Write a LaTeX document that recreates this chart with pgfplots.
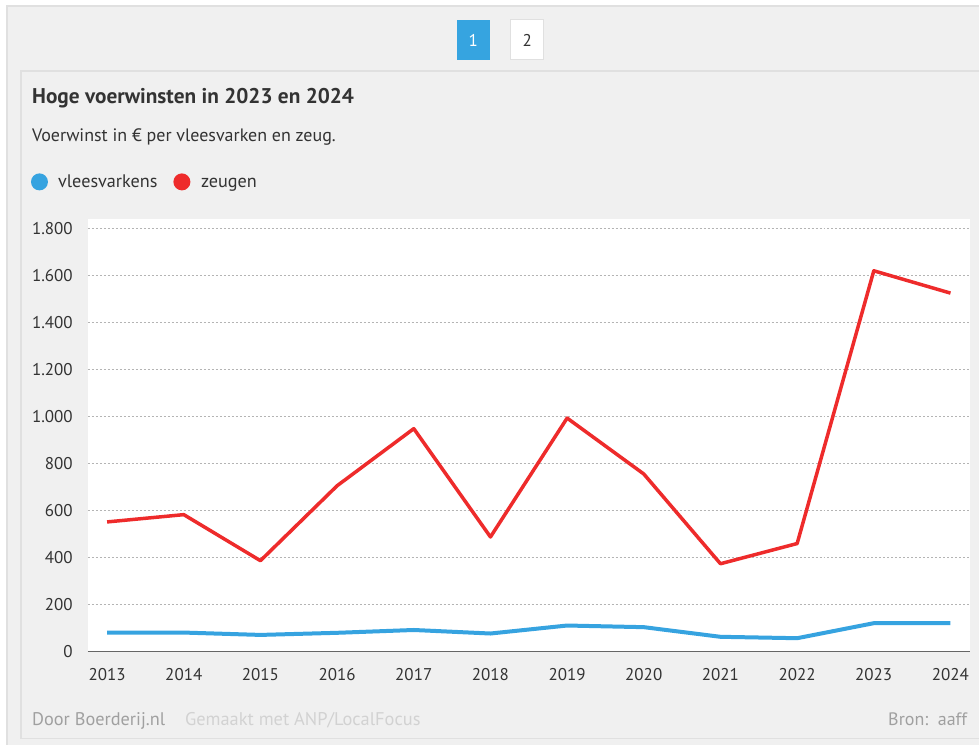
\documentclass[border=0pt]{standalone}
\usepackage{pgfplots}
\pgfplotsset{compat=1.18}
\usepackage{fontspec}
\setmainfont{PT Sans}

\definecolor{bg}{HTML}{F0F0F0}
\definecolor{edge}{HTML}{E0E0E0}
\definecolor{txt}{HTML}{333333}
\definecolor{btnblue}{HTML}{36A4E0}
\definecolor{vlees}{HTML}{36A3E0}
\definecolor{zeug}{HTML}{EE2B2B}
\definecolor{gridc}{HTML}{B4B4B4}
\definecolor{foot}{HTML}{A0A0A0}
\definecolor{footlight}{HTML}{D2D2D2}

\begin{document}
\begin{tikzpicture}
  % page and frames
  \fill[white] (0pt,0pt) rectangle (980pt,-745pt);
  \fill[bg] (7pt,-6pt) rectangle (980pt,-745pt);
  \draw[edge, line width=1.2pt] (7pt,-745pt) -- (7pt,-6pt) -- (980pt,-6pt);
  \draw[edge, line width=1.2pt] (980pt,-71pt) -- (21pt,-71pt) -- (21pt,-739pt) -- (980pt,-739pt);

  % page buttons
  \fill[btnblue] (457pt,-20pt) rectangle (490pt,-60pt);
  \node[white, font=\fontsize{17}{20}\selectfont] at (473.5pt,-40pt) {1};
  \filldraw[fill=white, draw=edge, line width=1pt] (511pt,-20pt) rectangle (544pt,-60pt);
  \node[txt, font=\fontsize{17}{20}\selectfont] at (527.5pt,-40pt) {2};

  % title, subtitle
  \node[anchor=base west, inner sep=0pt, txt, font=\fontsize{21.3}{24}\selectfont\bfseries]
    at (32pt,-104pt) {Hoge voerwinsten in 2023 en 2024};
  \node[anchor=base west, inner sep=0pt, txt, font=\fontsize{18}{21}\selectfont]
    at (32pt,-142pt) {Voerwinst in € per vleesvarken en zeug.};

  % legend
  \fill[vlees] (39.5pt,-182pt) circle (8.5pt);
  \node[anchor=base west, inner sep=0pt, txt, font=\fontsize{18.2}{21}\selectfont]
    at (58pt,-188pt) {vleesvarkens};
  \fill[zeug] (182pt,-182pt) circle (8.5pt);
  \node[anchor=base west, inner sep=0pt, txt, font=\fontsize{18.2}{21}\selectfont]
    at (201pt,-188pt) {zeugen};

  \begin{axis}[
      at={(88pt,-652pt)}, anchor=south west,
      scale only axis, width=883pt, height=433pt,
      xmin=2012.75, xmax=2024.26,
      ymin=0, ymax=1842,
      axis background/.style={fill=white},
      axis lines*=left,
      y axis line style={draw=none},
      x axis line style={color=black!60, line width=1.5pt},
      major tick length=0pt,
      xtick={2013,...,2024},
      ytick={0,200,...,1800},
      ymajorgrids,
      major grid style={dash pattern=on 2pt off 2pt, color=gridc, line width=1pt},
      /pgf/number format/assume math mode=true,
      xticklabel style={txt, font=\fontsize{17}{20}\selectfont, inner sep=0pt,
        yshift=-17pt, /pgf/number format/1000 sep={}},
      yticklabel style={txt, font=\fontsize{17}{20}\selectfont, inner sep=0pt,
        xshift=-15pt, /pgf/number format/1000 sep={.}},
      clip=false,
    ]
    % vleesvarkens
    \addplot[vlees, line width=4pt, line join=round] coordinates {
      (2013, 81) (2014, 81) (2015, 71) (2016, 80) (2017, 92) (2018, 77)
      (2019, 111) (2020, 104) (2021, 63) (2022, 57) (2023, 121) (2024, 121)
    };
    % zeugen
    \addplot[zeug, line width=3.5pt, line join=round] coordinates {
      (2013, 552) (2014, 583) (2015, 387) (2016, 706) (2017, 949) (2018, 488)
      (2019, 994) (2020, 756) (2021, 374) (2022, 460) (2023, 1621) (2024, 1526)
    };
  \end{axis}

  % footer
  \node[anchor=base west, inner sep=0pt, foot, font=\fontsize{18.3}{22}\selectfont]
    at (32pt,-726pt) {Door Boerderij.nl};
  \node[anchor=base west, inner sep=0pt, footlight, font=\fontsize{18.4}{22}\selectfont]
    at (185pt,-726pt) {Gemaakt met ANP/LocalFocus};
  \node[anchor=base east, inner sep=0pt, foot, font=\fontsize{18}{21}\selectfont]
    at (968pt,-726pt) {Bron:\ \ aaff};
\end{tikzpicture}
\end{document}
